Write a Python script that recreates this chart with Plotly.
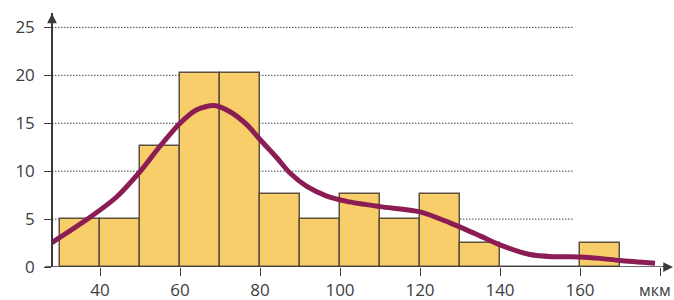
import plotly.graph_objects as go

# ---- data ----
bin_starts = [30, 40, 50, 60, 70, 80, 90, 100, 110, 120, 130, 140, 150, 160]
bin_width = 10
percent = [5.05, 5.05, 12.65, 20.2, 20.2, 7.6, 5.05, 7.6, 5.05, 7.6, 2.5, 0, 0, 2.5]

curve_x = [28.0, 36.7, 44.0, 50, 55, 60, 64.2, 68.5, 72.5, 76.7, 80, 84.2, 87.5, 91.7, 96.7,
           101.7, 110, 120, 127.5, 135, 140, 147.5, 153, 160, 165, 170, 178.75]
curve_y = [2.55, 4.95, 7.25, 9.95, 12.6, 15.0, 16.4, 16.85, 16.2, 14.85, 13.3, 11.4, 9.8, 8.4, 7.4,
           6.85, 6.3, 5.75, 4.6, 3.25, 2.3, 1.3, 1.08, 1.05, 0.9, 0.68, 0.4]

x_tick_vals = [40, 60, 80, 100, 120, 140, 160, 180]
x_tick_text = ["40", "60", "80", "100", "120", "140", "160", ""]
x_unit_label = "мкм"
y_tick_vals = [0, 5, 10, 15, 20, 25]
grid_vals = [5, 10, 15, 20, 25]

AX = "#3a3a3a"
TXT = "#3d3d3d"
x_min, x_max = 25.5, 183.5
y_axis_at = 28

fig = go.Figure()

fig.add_trace(go.Bar(
    x=[s + bin_width / 2 for s in bin_starts],
    y=percent,
    width=bin_width,
    marker=dict(color="#F8CE6B", line=dict(color="#5E5040", width=1.5)),
    hoverinfo="skip",
))

fig.add_trace(go.Scatter(
    x=curve_x, y=curve_y, mode="lines",
    line=dict(color="#8C1D54", width=5, shape="spline", smoothing=0.8),
    hoverinfo="skip",
))

shapes = []
for g in grid_vals:
    shapes.append(dict(type="line", xref="x", yref="y", x0=y_axis_at, x1=158.25, y0=g, y1=g,
                       line=dict(color="#444", width=1, dash="1.5px,1.5px"), layer="below"))
# x-axis line
shapes.append(dict(type="line", xref="x", yref="y", x0=26.25, x1=182, y0=0, y1=0,
                   line=dict(color=AX, width=1.5), layer="above"))

annotations = [
    # y-axis arrow head
    dict(x=y_axis_at, y=26.45, ax=y_axis_at, ay=25.5, xref="x", yref="y", axref="x", ayref="y",
         showarrow=True, arrowhead=2, arrowsize=1.3, arrowwidth=1.5, arrowcolor=AX, text=""),
    # x-axis arrow head
    dict(x=183.25, y=0, ax=180.5, ay=0, xref="x", yref="y", axref="x", ayref="y",
         showarrow=True, arrowhead=2, arrowsize=1.3, arrowwidth=1.5, arrowcolor=AX, text=""),
    # unit label under the last tick
    dict(x=1, y=0, xref="paper", yref="y", xanchor="right", yanchor="top",
         xshift=-1, yshift=-10, showarrow=False, text=x_unit_label,
         font=dict(family="Open Sans", size=16, color=TXT)),
]

fig.update_layout(
    width=674, height=300,
    margin=dict(l=42, r=0, t=13, b=33, autoexpand=False),
    paper_bgcolor="white", plot_bgcolor="white",
    showlegend=False, bargap=0,
    font=dict(family="Open Sans", size=17, color=TXT),
    shapes=shapes, annotations=annotations,
    xaxis=dict(range=[x_min, x_max], tickvals=x_tick_vals, ticktext=x_tick_text,
               ticks="outside", ticklen=8, tickwidth=1.2, tickcolor=AX,
               showgrid=False, zeroline=False, showline=False, fixedrange=True,
               automargin=False, ticklabelstandoff=0, ticklabeloverflow="allow"),
    yaxis=dict(range=[0, 26.5], tickvals=y_tick_vals, anchor="free",
               position=(y_axis_at - x_min) / (x_max - x_min),
               ticks="outside", ticklen=7, tickwidth=1.2, tickcolor=AX,
               showline=True, linecolor=AX, linewidth=1.5,
               showgrid=False, zeroline=False, fixedrange=True,
               automargin=False, ticklabelstandoff=6, ticklabeloverflow="allow"),
)

fig.write_html("out.html", config={"displayModeBar": False},
               post_script="document.body.style.margin='0';document.body.style.overflow='hidden';")
